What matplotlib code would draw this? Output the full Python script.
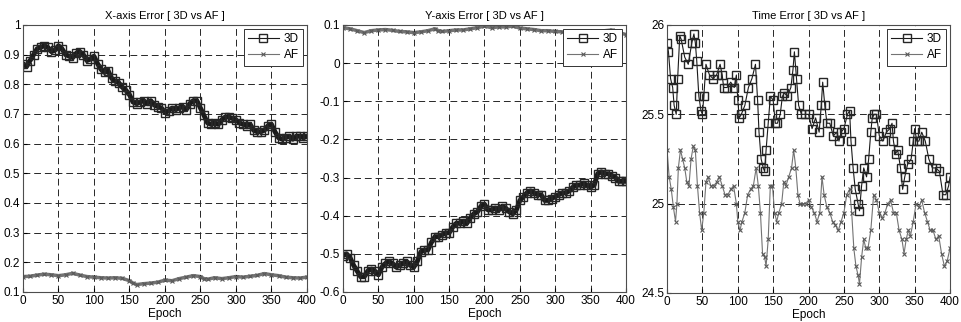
import matplotlib.pyplot as plt

plt.rcParams['font.family'] = ['Liberation Sans Narrow', 'Liberation Sans', 'DejaVu Sans']

# X-axis error
x_ep = [0, 5, 10, 15, 20, 25, 30, 35, 40, 45, 50, 55, 60, 65, 70, 75, 80, 85, 90, 95,
        100, 105, 110, 115, 120, 125, 130, 135, 140, 145, 150, 155, 160, 165, 170, 175,
        180, 185, 190, 195, 200, 205, 210, 215, 220, 225, 230, 235, 240, 245, 250, 255,
        260, 265, 270, 275, 280, 285, 290, 295, 300, 305, 310, 315, 320, 325, 330, 335,
        340, 345, 350, 355, 360, 365, 370, 375, 380, 385, 390, 395, 400]
x_3d = [0.87, 0.86, 0.88, 0.90, 0.92, 0.925, 0.93, 0.925, 0.91, 0.915, 0.93, 0.92, 0.90,
        0.895, 0.89, 0.905, 0.91, 0.90, 0.88, 0.885, 0.895, 0.87, 0.85, 0.84, 0.845, 0.82,
        0.81, 0.805, 0.79, 0.78, 0.765, 0.74, 0.735, 0.74, 0.745, 0.735, 0.745, 0.73, 0.725,
        0.72, 0.705, 0.71, 0.72, 0.715, 0.72, 0.725, 0.715, 0.735, 0.745, 0.745, 0.72, 0.695,
        0.67, 0.665, 0.67, 0.665, 0.68, 0.69, 0.69, 0.685, 0.68, 0.67, 0.665, 0.66, 0.665,
        0.645, 0.64, 0.64, 0.645, 0.66, 0.665, 0.64, 0.62, 0.615, 0.62, 0.625, 0.615, 0.625,
        0.625, 0.62, 0.625]
x_af_ep = [0, 10, 20, 30, 40, 50, 60, 70, 80, 90, 100, 110, 120, 130, 140, 150, 155, 160,
           170, 180, 190, 200, 210, 220, 230, 240, 250, 255, 260, 270, 280, 290, 300, 310,
           320, 330, 340, 350, 360, 370, 380, 390, 400]
x_af = [0.152, 0.153, 0.157, 0.160, 0.158, 0.155, 0.158, 0.163, 0.157, 0.152, 0.150, 0.148,
        0.147, 0.148, 0.146, 0.138, 0.130, 0.125, 0.128, 0.130, 0.133, 0.140, 0.138, 0.145,
        0.150, 0.155, 0.152, 0.145, 0.143, 0.148, 0.145, 0.148, 0.152, 0.150, 0.153, 0.156,
        0.162, 0.158, 0.155, 0.150, 0.148, 0.147, 0.150]

# Y-axis error
y_3d = [-0.505, -0.50, -0.51, -0.53, -0.545, -0.56, -0.56, -0.545, -0.54, -0.545, -0.555,
        -0.535, -0.525, -0.52, -0.525, -0.535, -0.53, -0.525, -0.52, -0.53, -0.535, -0.52,
        -0.495, -0.49, -0.49, -0.47, -0.455, -0.455, -0.45, -0.445, -0.445, -0.43, -0.42,
        -0.42, -0.415, -0.42, -0.405, -0.395, -0.39, -0.375, -0.37, -0.385, -0.385, -0.38,
        -0.385, -0.375, -0.38, -0.39, -0.395, -0.385, -0.36, -0.35, -0.34, -0.335, -0.34,
        -0.345, -0.345, -0.36, -0.36, -0.355, -0.35, -0.345, -0.34, -0.34, -0.335, -0.325,
        -0.32, -0.32, -0.315, -0.32, -0.325, -0.32, -0.29, -0.285, -0.29, -0.29, -0.295,
        -0.30, -0.31, -0.31, -0.31]
y_af_ep = [0, 10, 20, 30, 40, 50, 60, 70, 80, 90, 100, 110, 120, 130, 135, 140, 150, 160,
           170, 180, 190, 200, 210, 220, 230, 240, 250, 260, 270, 280, 290, 300, 310, 320,
           330, 340, 350, 360, 370, 380, 390, 400]
y_af = [0.093, 0.090, 0.085, 0.080, 0.085, 0.087, 0.088, 0.086, 0.083, 0.082, 0.080, 0.082,
        0.085, 0.090, 0.085, 0.083, 0.085, 0.087, 0.087, 0.090, 0.093, 0.097, 0.093, 0.095,
        0.095, 0.097, 0.092, 0.090, 0.088, 0.085, 0.085, 0.083, 0.082, 0.080, 0.078, 0.075,
        0.075, 0.080, 0.085, 0.087, 0.080, 0.075]

# Time error
t_3d_ep = [0, 2, 5, 8, 10, 13, 15, 18, 20, 25, 30, 35, 38, 40, 42, 45, 48, 50, 52, 55, 60,
           65, 70, 75, 78, 80, 85, 90, 95, 98, 100, 102, 105, 110, 115, 120, 125, 128, 130,
           133, 136, 138, 140, 143, 146, 150, 153, 156, 160, 163, 166, 170, 175, 178, 180,
           183, 186, 190, 195, 200, 205, 210, 215, 218, 220, 223, 226, 230, 235, 240, 243,
           246, 250, 255, 258, 260, 263, 266, 270, 272, 275, 278, 282, 285, 288, 290, 293,
           296, 300, 305, 310, 315, 318, 320, 323, 326, 330, 333, 336, 340, 345, 348, 350,
           353, 356, 360, 365, 370, 375, 380, 385, 390, 394, 398, 400]
t_3d = [25.90, 25.85, 25.70, 25.65, 25.55, 25.50, 25.70, 25.94, 25.92, 25.82, 25.78, 25.90,
        25.95, 25.90, 25.80, 25.60, 25.52, 25.50, 25.60, 25.78, 25.72, 25.70, 25.72, 25.78,
        25.72, 25.65, 25.65, 25.68, 25.65, 25.72, 25.58, 25.48, 25.50, 25.55, 25.65, 25.70,
        25.78, 25.58, 25.40, 25.25, 25.20, 25.18, 25.30, 25.45, 25.60, 25.58, 25.45, 25.45,
        25.50, 25.60, 25.62, 25.60, 25.65, 25.75, 25.85, 25.70, 25.55, 25.50, 25.50, 25.50,
        25.42, 25.48, 25.40, 25.55, 25.68, 25.55, 25.45, 25.45, 25.38, 25.40, 25.35, 25.40,
        25.42, 25.50, 25.52, 25.35, 25.20, 25.08, 25.00, 24.96, 25.10, 25.20, 25.15, 25.25,
        25.40, 25.48, 25.50, 25.50, 25.38, 25.35, 25.40, 25.42, 25.45, 25.35, 25.28, 25.30,
        25.20, 25.08, 25.15, 25.22, 25.25, 25.35, 25.42, 25.35, 25.35, 25.40, 25.35, 25.25,
        25.20, 25.20, 25.18, 25.05, 25.05, 25.10, 25.15]
t_af_ep = [0, 3, 6, 9, 12, 14, 16, 19, 22, 25, 28, 31, 34, 37, 40, 43, 46, 49, 52, 55, 58,
           62, 66, 70, 74, 78, 82, 86, 90, 94, 98, 100, 103, 106, 110, 114, 118, 122, 126,
           129, 132, 135, 138, 140, 143, 146, 149, 152, 155, 158, 162, 165, 168, 172, 176,
           179, 182, 185, 188, 192, 196, 200, 204, 208, 212, 216, 219, 222, 226, 230, 234,
           238, 242, 246, 250, 254, 258, 261, 264, 267, 270, 272, 275, 278, 281, 284, 288,
           292, 296, 300, 304, 308, 312, 316, 320, 324, 328, 332, 335, 338, 341, 344, 348,
           352, 356, 360, 364, 368, 372, 376, 380, 384, 388, 392, 396, 400]
t_af = [25.30, 25.15, 25.08, 24.98, 24.90, 25.00, 25.20, 25.30, 25.25, 25.20, 25.12, 25.10,
        25.25, 25.32, 25.30, 25.10, 24.95, 24.85, 24.95, 25.12, 25.15, 25.10, 25.10, 25.12,
        25.15, 25.10, 25.05, 25.05, 25.08, 25.10, 25.00, 24.90, 24.85, 24.90, 24.95, 25.05,
        25.08, 25.10, 25.20, 25.10, 24.95, 24.72, 24.70, 24.65, 24.80, 25.10, 25.10, 24.95,
        24.90, 24.95, 25.00, 25.12, 25.10, 25.15, 25.20, 25.30, 25.20, 25.05, 25.00, 25.00,
        25.00, 25.02, 24.98, 24.95, 24.90, 24.95, 25.15, 25.05, 24.98, 24.95, 24.90, 24.88,
        24.85, 24.90, 24.95, 25.05, 25.08, 24.95, 24.75, 24.65, 24.60, 24.55, 24.70, 24.80,
        24.75, 24.75, 24.85, 25.05, 25.02, 24.95, 24.92, 24.95, 25.00, 25.02, 24.95, 24.95,
        24.85, 24.80, 24.72, 24.80, 24.85, 24.82, 24.90, 25.00, 24.98, 25.02, 24.95, 24.90,
        24.85, 24.85, 24.80, 24.82, 24.72, 24.65, 24.68, 24.75]

titles = ['X-axis Error [ 3D vs AF ]', 'Y-axis Error [ 3D vs AF ]', 'Time Error [ 3D vs AF ]']
panels = [
    (x_ep, x_3d, x_af_ep, x_af, (0.1, 1.0), [0.1, 0.2, 0.3, 0.4, 0.5, 0.6, 0.7, 0.8, 0.9, 1],
     ['0.1', '0.2', '0.3', '0.4', '0.5', '0.6', '0.7', '0.8', '0.9', '1']),
    (x_ep, y_3d, y_af_ep, y_af, (-0.6, 0.1), [-0.6, -0.5, -0.4, -0.3, -0.2, -0.1, 0, 0.1],
     ['-0.6', '-0.5', '-0.4', '-0.3', '-0.2', '-0.1', '0', '0.1']),
    (t_3d_ep, t_3d, t_af_ep, t_af, (24.5, 26.0), [24.5, 25, 25.5, 26],
     ['24.5', '25', '25.5', '26']),
]
rects = [[0.0239, 0.0932, 0.2955, 0.8292],
         [0.3569, 0.0932, 0.2945, 0.8292],
         [0.6941, 0.0901, 0.2945, 0.8323]]
dense = [True, True, False]

fig = plt.figure(figsize=(9.61, 3.22), dpi=100)
for rect, title, d, (e3, v3, ea, va, ylim, yt, ytl) in zip(rects, titles, dense, panels):
    ax = fig.add_axes(rect)
    # thick underlay so the dense panels read as a solid band, like the many markers in the original
    if d:
        ax.plot(e3, v3, color='0.1', lw=3.5, zorder=1.5)
        ax.plot(ea, va, color='0.45', lw=2.5, zorder=1.5)
    ax.plot(e3, v3, color='0.1', lw=0.8, marker='s', ms=6 if d else 5.5,
            mfc='none', mec='0.15', mew=1.0, label='3D', zorder=2)
    ax.plot(ea, va, color='0.45', lw=0.8, marker='x', ms=3.5, mec='0.35',
            mew=0.8, label='AF', zorder=2)
    ax.set_xlim(0, 400)
    ax.set_ylim(*ylim)
    ax.set_xticks(range(0, 401, 50))
    ax.set_yticks(yt)
    ax.set_yticklabels(ytl)
    ax.tick_params(direction='in', labelsize=8.5, length=3, pad=2)
    ax.grid(True, color='0.15', linestyle=(0, (7, 4)), lw=0.7)
    ax.set_title(title, fontsize=8, pad=4)
    ax.set_xlabel('Epoch', fontsize=8.5, labelpad=1)
    for s in ax.spines.values():
        s.set_color('0.3')
        s.set_linewidth(0.8)
    leg = ax.legend(loc='upper right', fontsize=8.5, handlelength=2.6, borderpad=0.35,
                    labelspacing=0.35, handletextpad=0.4, fancybox=False, framealpha=1,
                    borderaxespad=0.35)
    leg.get_frame().set_edgecolor('0.2')
    leg.get_frame().set_linewidth(0.7)

fig.savefig('out.png', dpi=100)
